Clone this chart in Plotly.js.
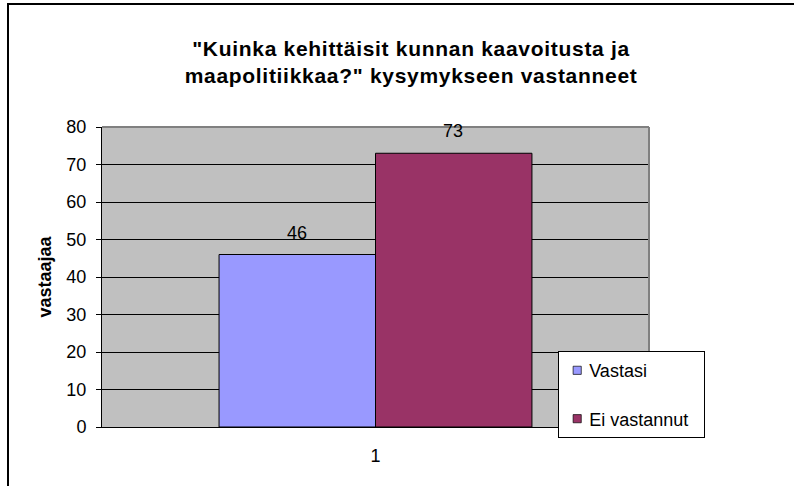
<!DOCTYPE html>
<html>
<head>
<meta charset="utf-8">
<script src="https://cdn.plot.ly/plotly-3.0.1.min.js"></script>
<style>
  html, body { margin: 0; padding: 0; background: #fff; }
  #wrap { position: relative; width: 794px; height: 486px; overflow: hidden; }
  #chart { position: absolute; left: 0; top: 0; width: 794px; height: 486px; }
  #frame { position: absolute; left: 7px; top: 3px; width: 900px; height: 600px;
           border-left: 2px solid #000; border-top: 2px solid #000; pointer-events: none; }
  #chart .gtitle { letter-spacing: 0.7px; }
  #chart .legend .legendtext { transform: translateX(-10px); }
  #chart .legend .legendpoints path { transform: translate(18px, 0px) scale(0.68); }
</style>
</head>
<body>
<div id="wrap">
  <div id="chart"></div>
  <div id="frame"></div>
</div>
<script>
const categories = ['1'];
const seriesNames = ['Vastasi', 'Ei vastannut'];
const vastasi = [46];
const eiVastannut = [73];
const yTicks = [0, 10, 20, 30, 40, 50, 60, 70, 80];

const colors = ['#9999FF', '#993366'];
const FONT = 'Liberation Sans, Arial, sans-serif';

const traces = [vastasi, eiVastannut].map((vals, i) => ({
  type: 'bar',
  name: seriesNames[i],
  x: categories,
  y: vals,
  legendgroup: 'g' + i,
  marker: { color: colors[i], line: { color: '#000', width: 1 } },
  hoverinfo: 'skip'
}));

// data labels above bars, derived from the series arrays (x = category index)
const annotations = [];
[vastasi, eiVastannut].forEach((vals, i) => {
  vals.forEach((v, j) => {
    annotations.push({
      x: j, y: v, xref: 'x', yref: 'y',
      text: String(v), showarrow: false,
      xshift: (i === 0 ? -79 : 77), yshift: 22,
      font: { family: FONT, size: 18, color: '#000' }
    });
  });
});

const layout = {
  width: 794, height: 486,
  paper_bgcolor: '#fff',
  plot_bgcolor: '#C0C0C0',
  margin: { l: 102, r: 145, t: 127, b: 59, pad: 0 },
  barmode: 'group',
  bargap: 0.428,
  bargroupgap: 0,
  showlegend: true,
  title: {
    text: '<b>"Kuinka kehittäisit kunnan kaavoitusta ja<br>maapolitiikkaa?" kysymykseen vastanneet</b>',
    font: { family: FONT, size: 21, color: '#000' },
    x: 0.565, xanchor: 'center', xref: 'paper',
    y: 0.885, yanchor: 'middle'
  },
  xaxis: {
    type: 'category',
    range: [-0.5, 0.5],
    autorange: false,
    showgrid: false,
    showline: true, linecolor: '#000', linewidth: 1,
    ticks: '', ticklabelstandoff: 12,
    tickfont: { family: FONT, size: 18, color: '#000' },
    fixedrange: true
  },
  yaxis: {
    range: [0, 80],
    autorange: false,
    tickvals: yTicks,
    ticktext: yTicks.map(String),
    showgrid: true, gridcolor: '#000', gridwidth: 1,
    zeroline: false,
    showline: true, linecolor: '#000', linewidth: 1,
    ticks: 'outside', ticklen: 5, tickcolor: '#000',
    ticklabelstandoff: 6,
    tickfont: { family: FONT, size: 18, color: '#000' },
    title: { text: '<b>vastaajaa</b>', font: { family: FONT, size: 18, color: '#000' }, standoff: 10 },
    fixedrange: true
  },
  legend: {
    x: 0.834, y: 0.253, xanchor: 'left', yanchor: 'top',
    bgcolor: '#fff', bordercolor: '#000', borderwidth: 1,
    font: { family: FONT, size: 18, color: '#000' },
    traceorder: 'grouped', tracegroupgap: 22,
    itemwidth: 30
  },
  shapes: [
    { type: 'line', xref: 'paper', yref: 'paper', x0: 0, x1: 1, y0: 1, y1: 1,
      line: { color: '#808080', width: 2 } },
    { type: 'line', xref: 'paper', yref: 'paper', x0: 1, x1: 1, y0: 0, y1: 1,
      line: { color: '#808080', width: 2 } }
  ],
  annotations: annotations
};

Plotly.newPlot('chart', traces, layout, { displayModeBar: false, staticPlot: true });
</script>
</body>
</html>
